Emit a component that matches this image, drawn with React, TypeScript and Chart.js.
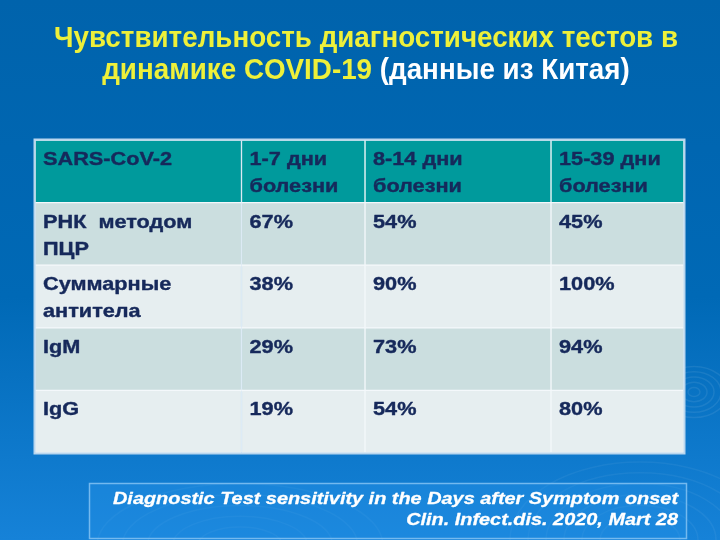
import React, { useEffect, useRef } from "react";
import { Chart, registerables } from "chart.js";

Chart.register(...registerables);

// ---- data ----
const titleLine1 = "Чувствительность диагностических тестов в";
const titleLine2Yellow = "динамике COVID-19 ";
const titleLine2White = "(данные из Китая)";

const headerCells = ["SARS-CoV-2", "1-7 дни\nболезни", "8-14 дни\nболезни", "15-39 дни\nболезни"];
const rowLabels = ["РНК  методом\nПЦР", "Суммарные\nантитела", "IgM", "IgG"];
const rnaPcr = [67, 54, 45];
const totalAntibodies = [38, 90, 100];
const igm = [29, 73, 94];
const igg = [19, 54, 80];
const seriesRows = [rnaPcr, totalAntibodies, igm, igg];

const footerLine1 = "Diagnostic Test sensitivity in the Days after Symptom onset";
const footerLine2 = "Clin. Infect.dis. 2020, Mart 28";

// ---- layout (relative column widths) ----
const COL_WEIGHTS = [206.5, 123.5, 186, 133];

const FONT = "'Liberation Sans', Arial, sans-serif";
const NAVY = "#16295b";

export default function App() {
  const ref = useRef<HTMLCanvasElement | null>(null);

  useEffect(() => {
    if (!ref.current) return;
    const total = COL_WEIGHTS.reduce((a, b) => a + b, 0);
    const edges: number[] = [0];
    COL_WEIGHTS.forEach((w) => edges.push(edges[edges.length - 1] + w / total));

    const tableText: string[][] = [headerCells];
    rowLabels.forEach((lab, r) => {
      tableText.push([lab, ...seriesRows[r].map((v) => `${v}%`)]);
    });
    const labels = ["header", ...rowLabels];

    const rowColor = (i: number) =>
      i === 0 ? "#009a9c" : i % 2 === 1 ? "#cbdedf" : "#e6eef0";

    const datasets = COL_WEIGHTS.map((_, c) => ({
      label: `col${c}`,
      data: labels.map(() => [edges[c], edges[c + 1]] as [number, number]),
      backgroundColor: (ctx: any) => rowColor(ctx.dataIndex),
      borderColor: "#f4f8fb",
      borderWidth: 1,
      borderSkipped: false as const,
      grouped: false,
      barPercentage: 1,
      categoryPercentage: 1,
    }));

    const drawScaled = (
      ctx: CanvasRenderingContext2D,
      text: string,
      x: number,
      y: number,
      sx: number,
      align: CanvasTextAlign,
      stroke = 0
    ) => {
      ctx.save();
      ctx.translate(x, y);
      ctx.scale(sx, 1);
      ctx.textAlign = align;
      ctx.textBaseline = "alphabetic";
      ctx.fillText(text, 0, 0);
      if (stroke > 0) {
        ctx.strokeStyle = ctx.fillStyle as string;
        ctx.lineWidth = stroke;
        ctx.lineJoin = "round";
        ctx.strokeText(text, 0, 0);
      }
      ctx.restore();
    };

    const slidePlugin = {
      id: "slide",
      beforeDraw(chart: any) {
        const ctx: CanvasRenderingContext2D = chart.ctx;
        const W = chart.width;
        const H = chart.height;
        ctx.save();
        const g = ctx.createLinearGradient(0, 0, 0, H);
        g.addColorStop(0, "#0063ac");
        g.addColorStop(0.55, "#0069b6");
        g.addColorStop(1, "#1682d8");
        ctx.fillStyle = g;
        ctx.fillRect(0, 0, W, H);
        // faint ripples
        ctx.strokeStyle = "rgba(255,255,255,0.08)";
        ctx.lineWidth = 1.5;
        for (let r = 6; r <= 34; r += 7) {
          ctx.beginPath();
          ctx.ellipse(694, 392, r, r * 0.75, 0, 0, Math.PI * 2);
          ctx.stroke();
        }
        ctx.strokeStyle = "rgba(255,255,255,0.05)";
        for (let r = 40; r <= 130; r += 18) {
          ctx.beginPath();
          ctx.ellipse(640, 540, r, r * 0.6, 0, Math.PI, Math.PI * 2);
          ctx.stroke();
        }
        for (let r = 30; r <= 110; r += 18) {
          ctx.beginPath();
          ctx.ellipse(240, 545, r * 1.4, r * 0.6, 0, Math.PI, Math.PI * 2);
          ctx.stroke();
        }
        ctx.restore();

        // title
        ctx.save();
        ctx.font = `bold 29px ${FONT}`;
        const w1 = ctx.measureText(titleLine1).width;
        const sxT = 624 / w1;
        const cx = 366;
        ctx.fillStyle = "#eef03a";
        drawScaled(ctx, titleLine1, cx, 47, sxT, "center");
        const wa = ctx.measureText(titleLine2Yellow).width * sxT;
        const wb = ctx.measureText(titleLine2White).width * sxT;
        const x0 = cx - (wa + wb) / 2;
        drawScaled(ctx, titleLine2Yellow, x0, 79, sxT, "left");
        ctx.fillStyle = "#ffffff";
        drawScaled(ctx, titleLine2White, x0 + wa, 79, sxT, "left");
        ctx.restore();
      },
      afterDatasetsDraw(chart: any) {
        const ctx: CanvasRenderingContext2D = chart.ctx;
        const area = chart.chartArea;
        ctx.save();
        // outer table border
        ctx.strokeStyle = "#b9d6ee";
        ctx.lineWidth = 2;
        ctx.strokeRect(area.left - 0.5, area.top - 0.5, area.right - area.left + 1, area.bottom - area.top + 1);

        ctx.font = `bold 19px ${FONT}`;
        const sx = 129 / ctx.measureText("SARS-CoV-2").width;
        ctx.fillStyle = NAVY;
        chart.data.datasets.forEach((_: any, c: number) => {
          const meta = chart.getDatasetMeta(c);
          meta.data.forEach((el: any, r: number) => {
            const left = Math.min(el.x, el.base);
            const top = el.y - el.height / 2;
            const lines = tableText[r][c].split("\n");
            lines.forEach((ln, k) => {
              drawScaled(ctx, ln, left + 8, top + 25 + k * 27, sx, "left", 0.4);
            });
          });
        });
        ctx.restore();

        // footer box
        ctx.save();
        ctx.fillStyle = "rgba(40,150,235,0.35)";
        ctx.fillRect(89, 483, 597, 55);
        ctx.strokeStyle = "#73b9ef";
        ctx.lineWidth = 1.5;
        ctx.strokeRect(89.5, 483.5, 597, 55);
        ctx.font = `italic bold 17px ${FONT}`;
        const sxF = 565 / ctx.measureText(footerLine1).width;
        ctx.fillStyle = "#ffffff";
        drawScaled(ctx, footerLine1, 678, 504, sxF, "right", 0.3);
        drawScaled(ctx, footerLine2, 678, 525, sxF, "right", 0.3);
        ctx.restore();
      },
    };

    const chart = new Chart(ref.current, {
      type: "bar",
      data: { labels, datasets: datasets as any },
      options: {
        indexAxis: "y",
        responsive: false,
        animation: false,
        layout: { padding: { left: 35, right: 36, top: 140, bottom: 87 } },
        scales: {
          x: { type: "linear", min: 0, max: 1, display: false },
          y: { type: "category", display: false, offset: true },
        },
        plugins: {
          legend: { display: false },
          tooltip: { enabled: false },
          title: { display: false },
        },
      },
      plugins: [slidePlugin as any],
    });
    return () => chart.destroy();
  }, []);

  return (
    <div style={{ position: "fixed", left: 0, top: 0, width: 720, height: 540 }}>
      <canvas ref={ref} width={720} height={540} />
    </div>
  );
}
